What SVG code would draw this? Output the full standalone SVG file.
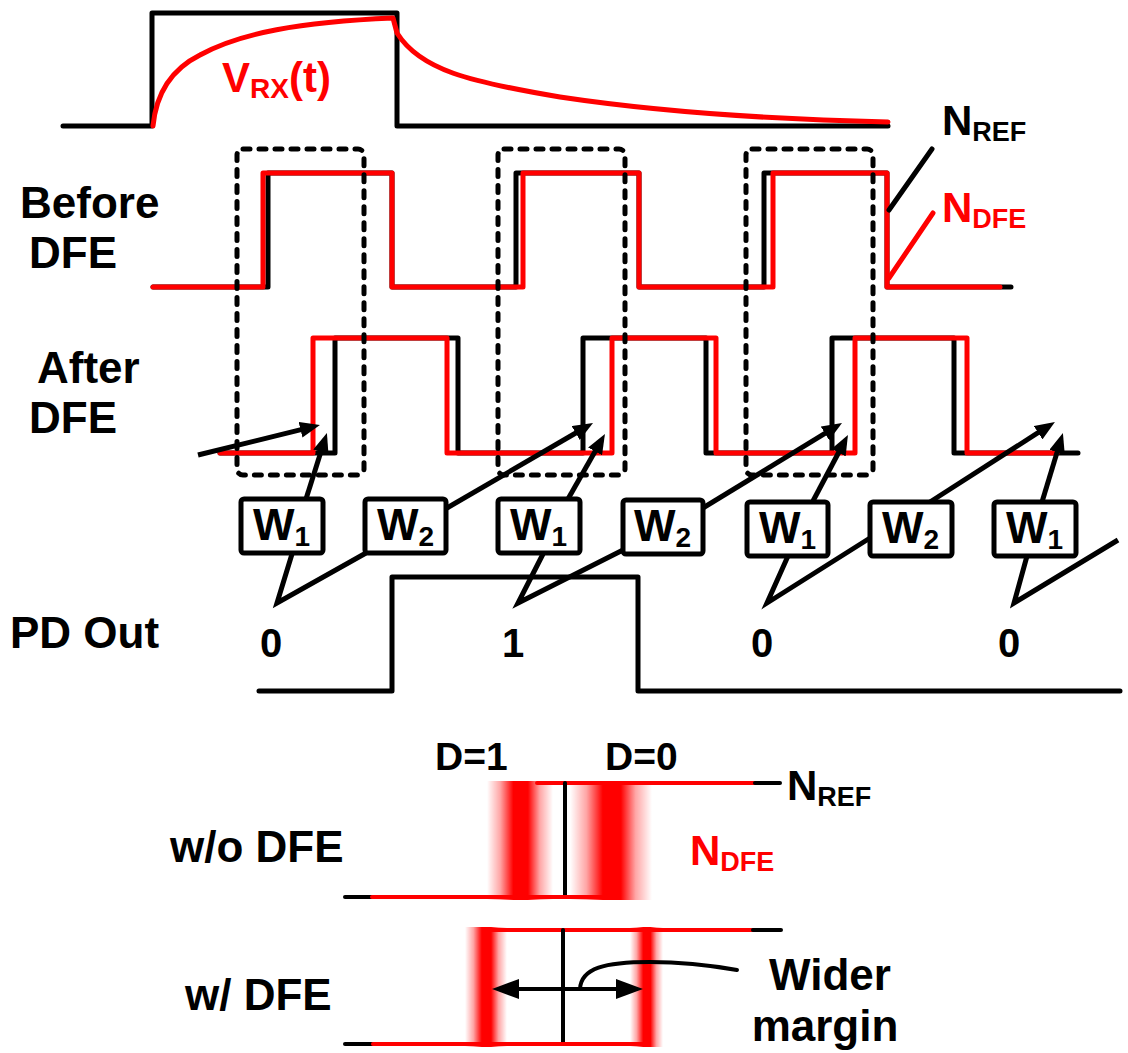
<svg xmlns="http://www.w3.org/2000/svg" width="1128" height="1053" viewBox="0 0 1128 1053">
<defs>
<style>
text{font-family:"Liberation Sans",Arial,sans-serif;font-weight:bold;}
.lbl{font-size:44px;fill:#000;}
.red{fill:#ff0000;}
.blk{fill:none;stroke:#000;stroke-width:5;stroke-linejoin:round;stroke-linecap:round;}
.rd{fill:none;stroke:#ff0000;stroke-width:5;stroke-linejoin:round;stroke-linecap:round;}
.blk4{fill:none;stroke:#000;stroke-width:4;stroke-linecap:round;}
.rd4{fill:none;stroke:#ff0000;stroke-width:4;stroke-linecap:round;}
.dash{fill:none;stroke:#000;stroke-width:5;stroke-dasharray:7 9;stroke-linecap:round;}
.box{fill:#fff;stroke:#000;stroke-width:5;}
.arr{fill:none;stroke:#000;stroke-width:5;marker-end:url(#ah);}
.ln{fill:none;stroke:#000;stroke-width:5;stroke-linejoin:miter;}
</style>
<marker id="ah" viewBox="0 0 20 16" refX="12" refY="8" markerWidth="20" markerHeight="16" markerUnits="userSpaceOnUse" orient="auto">
<path d="M0,0 L20,8 L0,16 z" fill="#000"/>
</marker>
<marker id="ah2" viewBox="0 0 27 20" refX="20" refY="10" markerWidth="27" markerHeight="20" markerUnits="userSpaceOnUse" orient="auto-start-reverse">
<path d="M0,0 L27,10 L0,20 z" fill="#000"/>
</marker>
<linearGradient id="glow" x1="0" y1="0" x2="1" y2="0">
<stop offset="0" stop-color="#ff0000" stop-opacity="0"/>
<stop offset="0.2" stop-color="#ff0000" stop-opacity="0.35"/>
<stop offset="0.4" stop-color="#ff0000" stop-opacity="1"/>
<stop offset="0.62" stop-color="#ff0000" stop-opacity="1"/>
<stop offset="0.8" stop-color="#ff0000" stop-opacity="0.35"/>
<stop offset="1" stop-color="#ff0000" stop-opacity="0"/>
</linearGradient>
</defs>
<rect width="1128" height="1053" fill="#fff"/>

<!-- Top pulse and channel response -->
<g id="vrx">
<path class="blk" d="M63,126 H152 V13 H397 V126 H888"/>
<path class="rd" d="M153,126 C156,95 170,70 200,55 C240,33 300,22 393,18 L397,33 C420,70 470,82 560,97 C680,115 800,120 888,122"/>
<text x="222" y="92" class="red" font-size="42">V<tspan font-size="28" dy="6">RX</tspan><tspan font-size="42" dy="-6">(t)</tspan></text>
</g>

<!-- Labels -->
<g id="labels">
<text x="20" y="218" class="lbl">Before</text>
<text x="29" y="268" class="lbl">DFE</text>
<text x="37" y="383" class="lbl">After</text>
<text x="29" y="433" class="lbl">DFE</text>
<text x="10" y="648" class="lbl">PD Out</text>
<text x="942" y="135" font-size="42">N<tspan font-size="27" dy="6">REF</tspan></text>
<text x="942" y="222" class="red" font-size="42">N<tspan font-size="27" dy="6">DFE</tspan></text>
</g>

<!-- Before DFE waveforms -->
<g id="before-dfe">
<path class="blk" d="M153,287 H268 V173 H392 V287 H516 V173 H639 V287 H764 V173 H887 V287 H1011"/>
<path class="rd" d="M153,287 H263 V173 H392 V287 H523 V173 H639 V287 H773 V173 H887 V287 H1000"/>
<line x1="889" y1="210" x2="932" y2="149" stroke="#000" stroke-width="5" stroke-linecap="round"/>
<line x1="889" y1="278" x2="933" y2="213" stroke="#ff0000" stroke-width="5" stroke-linecap="round"/>
</g>

<!-- After DFE waveforms -->
<g id="after-dfe">
<path class="blk" d="M220,453 H335 V338 H458 V453 H583 V338 H706 V453 H832 V338 H954 V453 H1078"/>
<path class="rd" d="M220,453 H313 V338 H447 V453 H612 V338 H716 V453 H855 V338 H967 V453 H1057"/>
</g>

<!-- Dashed windows -->
<g id="windows">
<rect class="dash" x="237" y="149" width="127" height="326" rx="6"/>
<rect class="dash" x="498" y="149" width="127" height="326" rx="6"/>
<rect class="dash" x="746" y="149" width="127" height="326" rx="6"/>
</g>

<!-- PD out waveform -->
<g id="pd-out">
<path class="blk" d="M259,691 H392 V577 H638 V691 H1120"/>
<text x="271" y="657" font-size="40" text-anchor="middle">0</text>
<text x="513" y="657" font-size="40" text-anchor="middle">1</text>
<text x="762" y="657" font-size="40" text-anchor="middle">0</text>
<text x="1009" y="657" font-size="40" text-anchor="middle">0</text>
</g>

<!-- Connectors -->
<g id="connectors">
<line class="arr" x1="198" y1="455" x2="312.2" y2="426.9"/>
<line class="arr" x1="306" y1="499" x2="324.5" y2="440.6"/>
<line class="arr" x1="447" y1="508" x2="586.1" y2="427"/>
<line class="arr" x1="568" y1="499" x2="601" y2="440.9"/>
<line class="arr" x1="703" y1="508" x2="835.2" y2="427.2"/>
<line class="arr" x1="813" y1="501" x2="844.2" y2="442"/>
<line class="arr" x1="930" y1="502" x2="1048.2" y2="426.2"/>
<line class="arr" x1="1042" y1="502" x2="1060.6" y2="440.6"/>
<polyline class="ln" points="292,554 277,603 366,553"/>
<polyline class="ln" points="543,554 518,603 623,550"/>
<polyline class="ln" points="788,556 767,603 870,538"/>
<polyline class="ln" points="1027,556 1014,603 1118,540"/>
</g>

<!-- Weight boxes -->
<g id="w1-a"><rect class="box" x="241" y="499" width="82" height="54" rx="3"/><text x="253" y="540" font-size="44">W<tspan font-size="28" dy="6">1</tspan></text></g>
<g id="w2-a"><rect class="box" x="365" y="499" width="81" height="54" rx="3"/><text x="377" y="540" font-size="44">W<tspan font-size="28" dy="6">2</tspan></text></g>
<g id="w1-b"><rect class="box" x="498" y="499" width="82" height="54" rx="3"/><text x="510" y="540" font-size="44">W<tspan font-size="28" dy="6">1</tspan></text></g>
<g id="w2-b"><rect class="box" x="623" y="500" width="80" height="54" rx="3"/><text x="634" y="541" font-size="44">W<tspan font-size="28" dy="6">2</tspan></text></g>
<g id="w1-c"><rect class="box" x="747" y="502" width="81" height="54" rx="3"/><text x="759" y="543" font-size="44">W<tspan font-size="28" dy="6">1</tspan></text></g>
<g id="w2-c"><rect class="box" x="870" y="502" width="82" height="54" rx="3"/><text x="882" y="543" font-size="44">W<tspan font-size="28" dy="6">2</tspan></text></g>
<g id="w1-d"><rect class="box" x="994" y="502" width="82" height="54" rx="3"/><text x="1006" y="543" font-size="44">W<tspan font-size="28" dy="6">1</tspan></text></g>

<!-- Bottom: w/o DFE -->
<g id="wo-dfe">
<rect x="487" y="781" width="66" height="119" fill="url(#glow)"/>
<rect x="570" y="781" width="82" height="119" fill="url(#glow)"/>
<line class="rd4" x1="537" y1="783" x2="755" y2="783"/>
<line class="blk4" x1="755" y1="783" x2="780" y2="783"/>
<line class="blk4" x1="565" y1="783" x2="565" y2="897" stroke-linecap="butt"/>
<line class="blk4" x1="345" y1="897" x2="372" y2="897"/>
<line class="rd4" x1="372" y1="897" x2="610" y2="897"/>
<text x="435" y="770" font-size="39">D=1</text>
<text x="605" y="770" font-size="39">D=0</text>
<text x="787" y="800" font-size="42">N<tspan font-size="27" dy="6">REF</tspan></text>
<text x="690" y="865" class="red" font-size="42">N<tspan font-size="27" dy="6">DFE</tspan></text>
<text x="170" y="862" class="lbl">w/o DFE</text>
</g>

<!-- Bottom: w/ DFE -->
<g id="w-dfe">
<rect x="465" y="927" width="42" height="120" fill="url(#glow)"/>
<rect x="630" y="927" width="33" height="120" fill="url(#glow)"/>
<line class="rd4" x1="490" y1="930" x2="753" y2="930"/>
<line class="blk4" x1="753" y1="930" x2="781" y2="930"/>
<line class="blk4" x1="563" y1="930" x2="563" y2="1044" stroke-linecap="butt"/>
<line class="blk4" x1="345" y1="1044" x2="373" y2="1044"/>
<line class="rd4" x1="373" y1="1044" x2="648" y2="1044"/>
<line x1="499" y1="989" x2="636" y2="989" stroke="#000" stroke-width="4" marker-start="url(#ah2)" marker-end="url(#ah2)"/>
<path class="blk4" d="M580,989 C581,968 605,962 650,962 C690,962 720,967 737,970"/>
<text x="185" y="1010" class="lbl">w/ DFE</text>
<text x="830" y="990" class="lbl" text-anchor="middle">Wider</text>
<text x="825" y="1041" class="lbl" text-anchor="middle">margin</text>
</g>
</svg>
